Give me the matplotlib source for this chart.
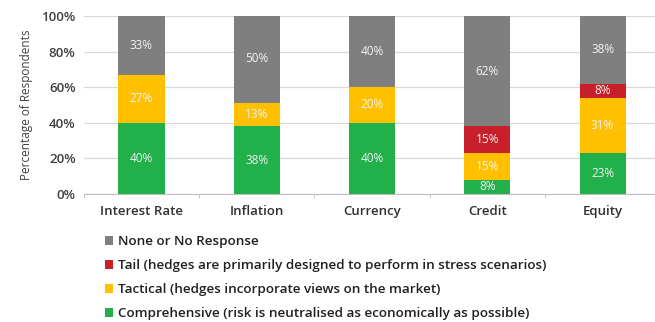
import matplotlib
matplotlib.use("Agg")
import matplotlib.pyplot as plt
import numpy as np

categories = ["Interest Rate", "Inflation", "Currency", "Credit", "Equity"]
comprehensive = [40, 38, 40, 8, 23]
tactical = [27, 13, 20, 15, 31]
tail = [0, 0, 0, 15, 8]
none_resp = [33, 50, 40, 62, 38]

series_names = [
    "Comprehensive (risk is neutralised as economically as possible)",
    "Tactical (hedges incorporate views on the market)",
    "Tail (hedges are primarily designed to perform in stress scenarios)",
    "None or No Response",
]
series_values = [comprehensive, tactical, tail, none_resp]
colors = ["#22B04B", "#FFC000", "#C8202A", "#7F7F7F"]
yticks = [0, 20, 40, 60, 80, 100]
ytick_labels = ["0%", "20%", "40%", "60%", "80%", "100%"]

plt.rcParams["font.family"] = ["Open Sans", "DejaVu Sans"]

fig = plt.figure(figsize=(6.55, 3.22), dpi=100)
ax = fig.add_axes([0.128, 0.398, 0.88, 0.552])

x = np.arange(len(categories))
bottom = np.zeros(len(categories))
handles = []
for name, vals, col in zip(series_names, series_values, colors):
    vals = np.array(vals, dtype=float)
    bars = ax.bar(x, vals, width=0.4, bottom=bottom, color=col, label=name, zorder=3)
    handles.append(bars)
    for xi, v, b in zip(x, vals, bottom):
        if v > 0:
            ax.text(xi, b + v / 2, f"{int(v)}%", ha="center", va="center",
                    color="#F4F4F4", fontsize=8.5, zorder=4)
    bottom += vals

ax.set_ylim(0, 100)
ax.set_xlim(-0.5, 4.5)
ax.set_yticks(yticks)
ax.set_yticklabels(ytick_labels, fontsize=9.5, fontweight="semibold", color="#404040")
ax.set_xticks(x)
ax.set_xticklabels(categories, fontsize=9.5, fontweight="semibold", color="#303030")
ax.tick_params(axis="x", length=0, pad=8)
ax.tick_params(axis="y", length=0, pad=6)
ax.set_xticks(np.arange(-0.5, 4.6, 1.0), minor=True)
ax.tick_params(axis="x", which="minor", length=3, color="#BFBFBF")
ax.yaxis.grid(True, color="#D9D9D9", linewidth=0.9, zorder=0)
for s in ["top", "right", "left"]:
    ax.spines[s].set_visible(False)
ax.spines["bottom"].set_color("#BFBFBF")
ax.set_ylabel("Percentage of Respondents", fontsize=8.5, color="#404040", labelpad=6)

fig.legend(handles[::-1], series_names[::-1], loc="upper left",
           bbox_to_anchor=(0.16, 0.27), frameon=False,
           prop={"size": 9.7, "weight": "semibold"},
           labelcolor="#202020", handlelength=0.6, handleheight=0.6,
           handletextpad=0.35, labelspacing=0.82, borderaxespad=0, borderpad=0)

fig.savefig("out.png", dpi=100)
